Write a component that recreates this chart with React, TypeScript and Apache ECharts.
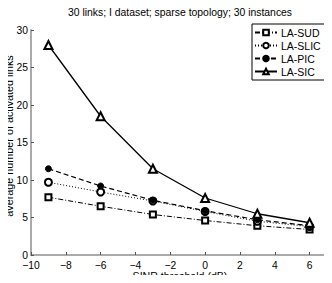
import React, { useEffect, useRef } from "react";
import * as echarts from "echarts";

const xValues = [-9, -6, -3, 0, 3, 6];
const sud = [7.7, 6.5, 5.4, 4.6, 3.9, 3.4];
const slic = [9.7, 8.4, 7.2, 5.8, 4.5, 3.8];
const pic = [11.5, 9.2, 7.3, 5.9, 4.7, 3.9];
const sic = [28, 18.5, 11.5, 7.6, 5.5, 4.3];

const xName = "SINR threshold (dB)";
const yName = "average number of activated links";
const FONT = "Liberation Sans";

function pairs(ys: number[]) {
  return xValues.map((x, i) => [x, ys[i]]);
}

export default function App() {
  const ref = useRef<HTMLDivElement>(null);
  useEffect(() => {
    if (!ref.current) return;
    const chart = echarts.init(ref.current, undefined, { renderer: "svg" });
    const mk = (name: string, data: number[], symbol: string, type: any, width: number, size: number) => ({
      name,
      type: "line",
      data: pairs(data),
      symbol,
      symbolSize: size,
      showAllSymbol: true,
      lineStyle: { color: "#000", width, type },
      itemStyle: { color: "#000", borderColor: "#000", borderWidth: 1 },
      z: 3,
    });
    chart.setOption({
      animation: false,
      backgroundColor: "#fff",
      textStyle: { fontFamily: FONT },
      title: {
        text: "30 links; I dataset; sparse topology; 30 instances",
        left: 180,
        textAlign: "center",
        top: 6,
        padding: 0,
        textStyle: { fontSize: 10.4, lineHeight: 12, fontWeight: "normal", color: "#000", fontFamily: FONT },
      },
      legend: {
        orient: "vertical",
        left: 252,
        top: 24,
        borderColor: "#000",
        borderWidth: 1,
        backgroundColor: "#fff",
        padding: [3, 10, 3, 2],
        itemGap: 2,
        itemWidth: 22,
        itemHeight: 7,
        textStyle: { fontSize: 10.5, color: "#000", fontFamily: FONT, padding: [0, 0, 0, -1] },
        data: ["LA-SUD", "LA-SLIC", "LA-PIC", "LA-SIC"],
      },
      graphic: [
        {
          type: "text",
          x: 180,
          y: 275.5,
          style: {
            text: xName,
            fill: "#000",
            font: `10.6px ${FONT}`,
            lineHeight: 11,
            align: "center",
            verticalAlign: "middle",
          },
        },
        {
          type: "text",
          x: 9,
          y: 136,
          rotation: Math.PI / 2,
          style: {
            text: yName,
            fill: "#000",
            font: `10.8px ${FONT}`,
            lineHeight: 11,
            align: "center",
            verticalAlign: "middle",
          },
        },
      ],
      grid: { left: 31, right: 5, top: 30, bottom: 28, containLabel: false, outerBoundsMode: "none" },
      xAxis: {
        type: "value",
        min: -10,
        max: 7,
        interval: 2,
        axisLine: { onZero: false, lineStyle: { color: "#aaa", width: 2 } },
        axisTick: { inside: true, length: 3, lineStyle: { color: "#555" } },
        axisLabel: {
          fontSize: 10.3,
          lineHeight: 10,
          color: "#000",
          margin: 5,
          showMaxLabel: false,
          hideOverlap: false,
          formatter: (v: number) => (v < 0 ? "\u2212" + Math.abs(v) : String(v)),
        },
        splitLine: { show: false },
      },
      yAxis: {
        type: "value",
        min: 0,
        max: 30,
        interval: 5,
        axisLine: { show: true, onZero: false, lineStyle: { color: "#aaa", width: 2 } },
        axisTick: { show: true, inside: true, length: 3, lineStyle: { color: "#555" } },
        axisLabel: { fontSize: 10.3, lineHeight: 10, color: "#000", margin: 3, hideOverlap: false },
        splitLine: { show: false },
      },
      series: [
        mk("LA-SUD", sud, "emptyRect", [5, 2, 1, 2], 1, 6),
        mk("LA-SLIC", slic, "emptyCircle", [1, 2], 1, 7),
        mk("LA-PIC", pic, "circle", [5, 3], 1.2, 6),
        mk("LA-SIC", sic, "emptyTriangle", "solid", 1.3, 8),
      ],
    });
    return () => chart.dispose();
  }, []);
  return <div ref={ref} style={{ width: 332, height: 283, margin: -8 }} />;
}
